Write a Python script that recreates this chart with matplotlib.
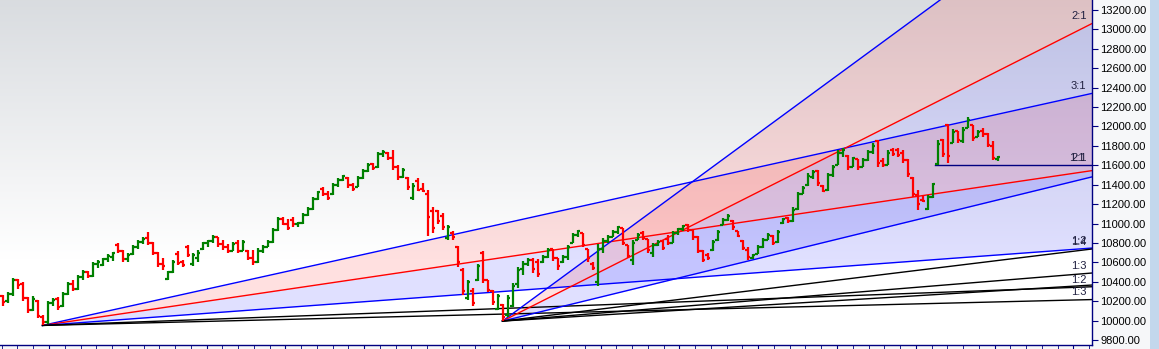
import numpy as np
import matplotlib
matplotlib.use("Agg")
import matplotlib.pyplot as plt
from matplotlib.collections import LineCollection
from matplotlib.patches import Rectangle
from matplotlib.ticker import FuncFormatter

plt.rcParams["font.family"] = ["Liberation Sans", "DejaVu Sans"]

# daily bars (open, high, low, close)
opens = [10250, 10200, 10270, 10420, 10380, 10230, 10110, 10200, 10040, 9990,
         10180, 10220, 10150, 10270, 10380, 10330, 10450, 10500, 10460, 10580,
         10570, 10630, 10660, 10780, 10720, 10630, 10690, 10760, 10810, 10850,
         10800, 10700, 10580, 10430, 10500, 10690, 10600, 10760, 10580, 10650,
         10740, 10800, 10820, 10860, 10790, 10760, 10720, 10800, 10720, 10720,
         10650, 10600, 10720, 10760, 10810, 10930, 11050, 11000, 11040, 10990,
         11010, 11090, 11150, 11250, 11360, 11300, 11300, 11400, 11450, 11470,
         11400, 11380, 11470, 11540, 11610, 11580, 11720, 11730, 11680, 11580,
         11480, 11470, 11260, 11440, 11360, 11300, 11130, 11130, 11080, 10850,
         10900, 10760, 10520, 10230, 10300, 10420, 10700, 10420, 10300, 10120,
         10160, 10060, 10150, 10380, 10530, 10580, 10620, 10600, 10600, 10660,
         10740, 10640, 10600, 10660, 10800, 10880, 10900, 10740, 10580, 10400,
         10740, 10820, 10860, 10910, 10950, 10780, 10620, 10830, 10900, 10840,
         10700, 10780, 10820, 10840, 10800, 10900, 10940, 10980, 10930, 10860,
         10720, 10680, 10730, 10830, 10980, 11040, 11030, 10920, 10820, 10730,
         10650, 10690, 10760, 10830, 10870, 10810, 11010, 11060, 11030, 11150,
         11300, 11400, 11480, 11540, 11390, 11350, 11500, 11600, 11730, 11700,
         11580, 11660, 11580, 11650, 11740, 11850, 11640, 11600, 11760, 11760,
         11730, 11650, 11470, 11290, 11240, 11150, 11270, 11610, 11860, 12010,
         11830, 11950, 11850, 11980, 12010, 11890, 11950, 11920, 11800, 11660]
highs = [10260, 10290, 10440, 10430, 10400, 10240, 10250, 10210, 10060, 10200,
         10230, 10240, 10290, 10400, 10420, 10470, 10520, 10510, 10600, 10620,
         10650, 10690, 10710, 10800, 10730, 10700, 10780, 10830, 10860, 10910,
         10810, 10710, 10640, 10510, 10620, 10720, 10620, 10780, 10700, 10730,
         10810, 10830, 10880, 10860, 10830, 10790, 10810, 10830, 10830, 10730,
         10730, 10750, 10780, 10830, 10950, 11070, 11070, 11050, 11070, 11020,
         11110, 11170, 11270, 11340, 11380, 11340, 11420, 11470, 11500, 11480,
         11420, 11490, 11560, 11620, 11620, 11740, 11760, 11740, 11760, 11600,
         11570, 11480, 11420, 11470, 11420, 11350, 11170, 11140, 11110, 10980,
         10920, 10770, 10540, 10420, 10340, 10580, 10720, 10420, 10320, 10270,
         10170, 10260, 10390, 10550, 10610, 10640, 10640, 10630, 10680, 10750,
         10740, 10650, 10680, 10780, 10900, 10930, 10900, 10740, 10600, 10790,
         10850, 10880, 10930, 10970, 10950, 10780, 10830, 10900, 10920, 10840,
         10800, 10830, 10830, 10880, 10920, 10950, 10980, 10990, 10930, 10870,
         10730, 10700, 10830, 10930, 11060, 11100, 11040, 10920, 10830, 10760,
         10690, 10780, 10850, 10900, 10880, 10930, 11060, 11070, 11170, 11320,
         11390, 11520, 11550, 11550, 11400, 11520, 11600, 11760, 11780, 11710,
         11690, 11660, 11680, 11760, 11830, 11860, 11670, 11760, 11780, 11780,
         11760, 11660, 11480, 11350, 11290, 11290, 11420, 11860, 11870, 12030,
         11970, 11950, 11990, 12100, 12020, 11960, 11980, 11930, 11850, 11700]
lows = [10150, 10180, 10250, 10330, 10200, 10080, 10100, 10030, 9950, 9960,
        10150, 10110, 10140, 10260, 10300, 10320, 10420, 10440, 10450, 10540,
        10560, 10600, 10610, 10700, 10600, 10600, 10680, 10740, 10790, 10780,
        10680, 10550, 10520, 10420, 10490, 10570, 10550, 10660, 10560, 10600,
        10730, 10760, 10800, 10760, 10730, 10700, 10720, 10700, 10720, 10620,
        10570, 10590, 10700, 10760, 10800, 10920, 10980, 10930, 10960, 10960,
        11000, 11080, 11140, 11240, 11280, 11240, 11290, 11380, 11440, 11370,
        11340, 11380, 11460, 11530, 11550, 11570, 11690, 11650, 11550, 11450,
        11470, 11350, 11240, 11330, 11320, 10870, 10900, 11000, 10930, 10830,
        10830, 10550, 10260, 10210, 10150, 10410, 10390, 10290, 10160, 10110,
        9995, 10040, 10140, 10340, 10470, 10560, 10490, 10450, 10590, 10650,
        10610, 10520, 10590, 10620, 10800, 10860, 10760, 10600, 10520, 10360,
        10700, 10800, 10860, 10890, 10780, 10640, 10570, 10830, 10830, 10700,
        10660, 10770, 10730, 10780, 10800, 10880, 10920, 10910, 10830, 10700,
        10600, 10620, 10720, 10820, 10980, 11030, 10930, 10860, 10730, 10620,
        10630, 10690, 10750, 10830, 10780, 10800, 11000, 11010, 11020, 11140,
        11300, 11390, 11460, 11390, 11320, 11340, 11480, 11600, 11690, 11550,
        11580, 11550, 11580, 11640, 11720, 11580, 11580, 11600, 11700, 11690,
        11620, 11480, 11270, 11140, 11220, 11140, 11260, 11600, 11690, 11620,
        11830, 11830, 11830, 11980, 11850, 11890, 11890, 11790, 11650, 11640]
closes = [10190, 10270, 10420, 10370, 10230, 10110, 10220, 10050, 9990, 10180,
          10210, 10140, 10270, 10380, 10330, 10450, 10500, 10460, 10580, 10600,
          10630, 10670, 10700, 10720, 10630, 10680, 10760, 10810, 10840, 10800,
          10700, 10580, 10560, 10500, 10600, 10590, 10570, 10680, 10680, 10700,
          10800, 10820, 10860, 10790, 10760, 10720, 10790, 10720, 10810, 10650,
          10600, 10720, 10760, 10810, 10930, 11050, 11000, 10950, 10990, 11010,
          11090, 11150, 11250, 11320, 11300, 11260, 11400, 11450, 11490, 11400,
          11360, 11470, 11540, 11600, 11570, 11720, 11740, 11670, 11580, 11480,
          11550, 11380, 11390, 11350, 11340, 11070, 10950, 11030, 10960, 10960,
          10860, 10600, 10300, 10400, 10180, 10560, 10420, 10320, 10190, 10250,
          10040, 10230, 10360, 10520, 10580, 10620, 10530, 10480, 10660, 10730,
          10640, 10560, 10660, 10760, 10880, 10920, 10780, 10640, 10540, 10740,
          10820, 10860, 10910, 10960, 10800, 10670, 10800, 10880, 10850, 10730,
          10780, 10810, 10750, 10800, 10900, 10940, 10970, 10930, 10860, 10720,
          10620, 10640, 10810, 10910, 11040, 11080, 10960, 10870, 10750, 10660,
          10680, 10760, 10830, 10880, 10800, 10910, 11050, 11030, 11140, 11300,
          11370, 11490, 11530, 11420, 11340, 11500, 11580, 11730, 11760, 11580,
          11670, 11580, 11650, 11740, 11800, 11620, 11600, 11730, 11720, 11710,
          11650, 11510, 11300, 11200, 11230, 11270, 11410, 11820, 11720, 11700,
          11940, 11860, 11960, 12070, 11880, 11940, 11920, 11810, 11670, 11690]

# gann fans: pivot bar, slope of each line (points per bar), colour, label
fan_pivots = [8, 100]
fan_slopes = [[11.39, 7.6, 3.80, 1.90, 1.27],
              [37.8, 26.0, 12.6, 6.3, 4.2, 3.15]]
fan_colors = [["#0000ff", "#ff0000", "#0000ff", "black", "black"],
              ["#0000ff", "#ff0000", "#0000ff", "black", "black", "black"]]
fan_labels = [["3:1", "", "1:2", "1:2", "1:3"],
              ["3:1", "2:1", "", "1:4", "1:3", ""]]
flat_pivot = 187
flat_labels = ["2:1", "1:1"]

navy = "#000080"
n = len(closes)
xmax = 217.9

fig = plt.figure(figsize=(11.59, 3.49), dpi=100, facecolor="#f6f7f9")
ax = fig.add_axes([0, 4 / 349, 1092 / 1159, 345 / 349])
ax.set_xlim(-0.5, xmax)
ax.set_ylim(9748.5, 13303)

# background gradient
t = np.clip(np.linspace(0, 1, 300) / 0.75, 0, 1)
top = np.array([0.851, 0.863, 0.878])
grad = top[None, :] + (1 - top[None, :]) * t[:, None]
ax.imshow(grad[:, None, :], extent=(0, 1, 0, 1), transform=ax.transAxes,
          aspect="auto", zorder=0)

# fan fills and lines
for p, slopes, cols, labs in zip(fan_pivots, fan_slopes, fan_colors, fan_labels):
    y0 = lows[p]
    xs = np.linspace(p, xmax, 300)
    lines = [y0 + s * (xs - p) for s in slopes]
    ax.fill_between(xs, lines[0], lines[1], color="#ff0000", alpha=0.12, lw=0, zorder=1)
    ax.fill_between(xs, lines[1], lines[2], color="#0000ff", alpha=0.12, lw=0, zorder=1)
    for s, c, lab in zip(slopes, cols, labs):
        yend = y0 + s * (xmax - p)
        ax.plot([p, xmax], [y0, yend], color=c, lw=1.0, zorder=2)
        if lab and yend < 13303:
            ax.annotate(lab, (xmax, yend), xytext=(-4, 1.5), textcoords="offset points",
                        ha="right", va="bottom", fontsize=8, color="#202040", zorder=5)

ax.plot([flat_pivot - 0.5, xmax], [lows[flat_pivot]] * 2, color=navy, lw=1.0, zorder=2)
for k, lab in enumerate(flat_labels):
    ax.annotate(lab, (xmax, lows[flat_pivot]), xytext=(-4 - k, 1.5), textcoords="offset points",
                ha="right", va="bottom", fontsize=8, color="#202040", zorder=5)

# ohlc bars
segs, cols = [], []
for i in range(n):
    c = "#008000" if closes[i] >= opens[i] else "#ff0000"
    segs += [[(i, lows[i]), (i, highs[i])],
             [(i - 0.42, opens[i]), (i, opens[i])],
             [(i, closes[i]), (i + 0.42, closes[i])]]
    cols += [c, c, c]
ax.add_collection(LineCollection(segs, colors=cols, linewidths=1.6, zorder=4))

# axes
for s in ["top", "left"]:
    ax.spines[s].set_visible(False)
for s in ["right", "bottom"]:
    ax.spines[s].set_color(navy)
    ax.spines[s].set_linewidth(1.0)
ax.yaxis.tick_right()
ax.set_yticks(np.arange(9800, 13201, 200))
ax.yaxis.set_major_formatter(FuncFormatter(lambda v, pos: f"{v:.2f}"))
ax.tick_params(axis="y", direction="out", length=4, color=navy, labelsize=8, pad=2)
ax.set_xticks(np.arange(9.3, xmax, 15.76))
ax.set_xticks(np.arange(9.3 - 3 * 3.152, xmax, 3.152), minor=True)
ax.set_xticklabels([])
ax.tick_params(axis="x", which="both", direction="out", length=4, color=navy)

fig.patches.append(Rectangle((1150 / 1159, 0), 9 / 1159, 1, transform=fig.transFigure,
                             facecolor="#c3d7ec", edgecolor="none"))

fig.savefig("out.png", dpi=100)
